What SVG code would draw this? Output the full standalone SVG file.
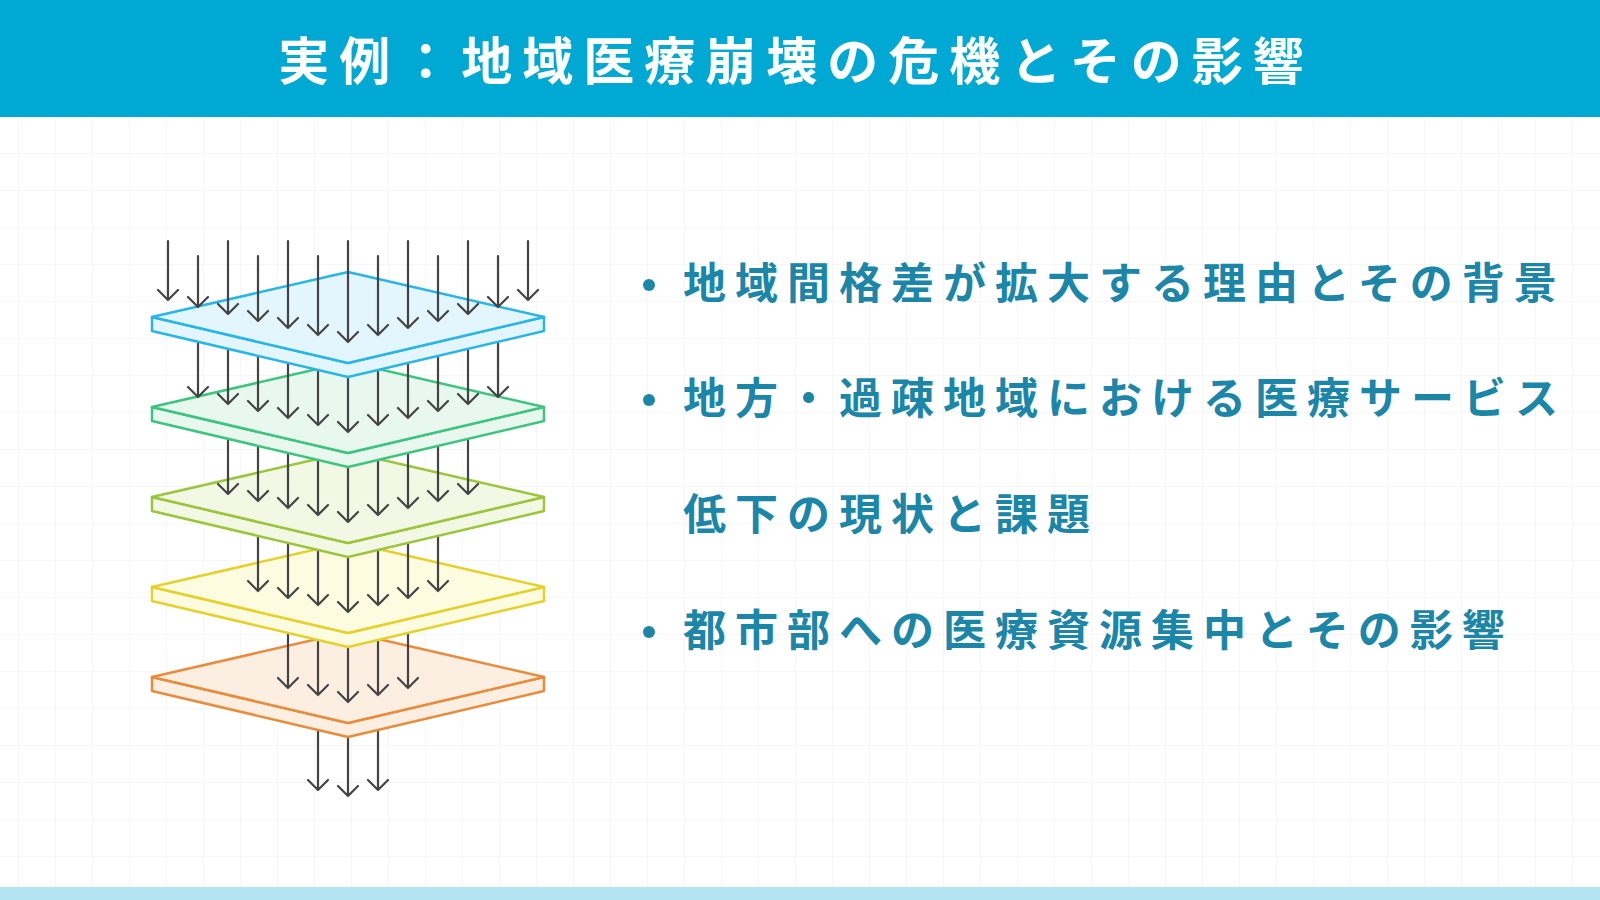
<svg xmlns="http://www.w3.org/2000/svg" width="1600" height="900" viewBox="0 0 1600 900">
<defs>
<style>
.t{font-family:"Noto Sans CJK JP","Noto Sans",sans-serif;font-weight:700}
.b{fill:#1b86a8;font-size:43px;letter-spacing:9px}
.a{stroke:#444;stroke-width:2.2;fill:none;stroke-linecap:round;stroke-linejoin:round}
</style>
<pattern id="g" width="37" height="37" patternUnits="userSpaceOnUse" x="18" y="5"><path d="M0 0V37M0 0H37" stroke="#f6f6f6" stroke-width="2" fill="none"/></pattern>
</defs>
<rect width="1600" height="900" fill="#fff"/>
<rect x="0" y="117" width="1600" height="770" fill="url(#g)"/>
<rect width="1600" height="117" fill="#00a9d4"/>
<rect y="887" width="1600" height="13" fill="#b2e4f1"/>
<text class="t" x="796" y="80" text-anchor="middle" fill="#fff" font-size="51" letter-spacing="10">実例：地域医療崩壊の危機とその影響</text>
<g id="stack">
<g class="a">
<path d="M318 650V790M308 780l10 10 10-10M348 650V796M338 786l10 10 10-10M378 650V790M368 780l10 10 10-10"/>
</g>
<g id="layer5"><path d="M152 677v14l196 46 196-46v-14l-196 46z" fill="#fdeee2" stroke="#e88c3c" stroke-width="2.5" stroke-linejoin="round"/><path d="M152 677l196-45 196 45-196 46z" fill="#fdeee2" stroke="#e88c3c" stroke-width="2.5" stroke-linejoin="round"/></g>
<g class="a">
<path d="M288 600V688M278 678l10 10 10-10M318 600V695M308 685l10 10 10-10M348 600V702M338 692l10 10 10-10M378 600V695M368 685l10 10 10-10M408 600V688M398 678l10 10 10-10"/>
</g>
<g id="layer4"><path d="M152 587v14l196 46 196-46v-14l-196 46z" fill="#fdfbe0" stroke="#e5d12a" stroke-width="2.5" stroke-linejoin="round"/><path d="M152 587l196-45 196 45-196 46z" fill="#fdfbe0" stroke="#e5d12a" stroke-width="2.5" stroke-linejoin="round"/></g>
<g class="a">
<path d="M258 510V591M248 581l10 10 10-10M288 510V598M278 588l10 10 10-10M318 510V605M308 595l10 10 10-10M348 510V612M338 602l10 10 10-10M378 510V605M368 595l10 10 10-10M408 510V598M398 588l10 10 10-10M438 510V591M428 581l10 10 10-10"/>
</g>
<g id="layer3"><path d="M152 497v14l196 46 196-46v-14l-196 46z" fill="#f2f8e4" stroke="#9bc53d" stroke-width="2.5" stroke-linejoin="round"/><path d="M152 497l196-45 196 45-196 46z" fill="#f2f8e4" stroke="#9bc53d" stroke-width="2.5" stroke-linejoin="round"/></g>
<g class="a">
<path d="M228 420V494M218 484l10 10 10-10M258 420V501M248 491l10 10 10-10M288 420V508M278 498l10 10 10-10M318 420V515M308 505l10 10 10-10M348 420V522M338 512l10 10 10-10M378 420V515M368 505l10 10 10-10M408 420V508M398 498l10 10 10-10M438 420V501M428 491l10 10 10-10M468 420V494M458 484l10 10 10-10"/>
</g>
<g id="layer2"><path d="M152 407v14l196 46 196-46v-14l-196 46z" fill="#e8f8ef" stroke="#3dc47e" stroke-width="2.5" stroke-linejoin="round"/><path d="M152 407l196-45 196 45-196 46z" fill="#e8f8ef" stroke="#3dc47e" stroke-width="2.5" stroke-linejoin="round"/></g>
<g class="a">
<path d="M198 330V397M188 387l10 10 10-10M228 330V404M218 394l10 10 10-10M258 330V411M248 401l10 10 10-10M288 330V418M278 408l10 10 10-10M318 330V425M308 415l10 10 10-10M348 330V432M338 422l10 10 10-10M378 330V425M368 415l10 10 10-10M408 330V418M398 408l10 10 10-10M438 330V411M428 401l10 10 10-10M468 330V404M458 394l10 10 10-10M498 330V397M488 387l10 10 10-10"/>
</g>
<g id="layer1"><path d="M152 317v14l196 46 196-46v-14l-196 46z" fill="#e3f6fd" stroke="#29b6e6" stroke-width="2.5" stroke-linejoin="round"/><path d="M152 317l196-45 196 45-196 46z" fill="#e3f6fd" stroke="#29b6e6" stroke-width="2.5" stroke-linejoin="round"/></g>
<g class="a">
<path d="M168 241V300M158 290l10 10 10-10M198 256V307M188 297l10 10 10-10M228 241V314M218 304l10 10 10-10M258 256V321M248 311l10 10 10-10M288 241V328M278 318l10 10 10-10M318 256V335M308 325l10 10 10-10M348 241V342M338 332l10 10 10-10M378 256V335M368 325l10 10 10-10M408 241V328M398 318l10 10 10-10M438 256V321M428 311l10 10 10-10M468 241V314M458 304l10 10 10-10M498 256V307M488 297l10 10 10-10M528 241V300M518 290l10 10 10-10"/>
</g>
</g>
<g id="bullets">
<circle cx="649" cy="285" r="6" fill="#1b86a8"/>
<text class="t b" x="683" y="299">地域間格差が拡大する理由とその背景</text>
<circle cx="649" cy="400" r="6" fill="#1b86a8"/>
<text class="t b" x="683" y="414">地方・過疎地域における医療サービス</text>
<text class="t b" x="683" y="530">低下の現状と課題</text>
<circle cx="649" cy="632" r="6" fill="#1b86a8"/>
<text class="t b" x="683" y="646">都市部への医療資源集中とその影響</text>
</g>
</svg>
